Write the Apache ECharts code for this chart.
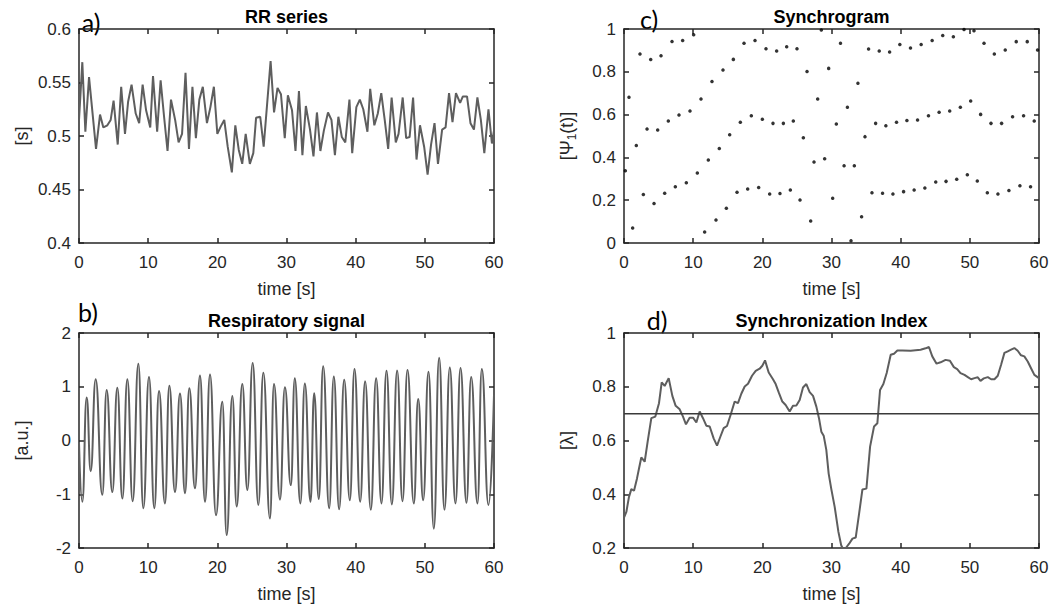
<!DOCTYPE html>
<html>
<head>
<meta charset="utf-8">
<title>Cardiorespiratory synchronization</title>
<script src="https://cdn.jsdelivr.net/npm/echarts@6/dist/echarts.min.js"></script>
<style>
  html, body { margin: 0; padding: 0; background: #ffffff; }
  #chart { width: 1052px; height: 610px; }
</style>
</head>
<body>
<div id="chart"></div>
<script>
// ---- a) RR interval series: beat time [s] and RR interval [s]
const rrTime = [
  0.00, 0.48, 0.92, 1.45, 2.46, 3.04, 3.52, 4.10, 4.58, 5.00,
  5.60, 6.10, 6.65, 7.10, 7.60, 8.20, 8.70, 9.20, 9.70, 10.30,
  10.70, 11.30, 11.80, 12.30, 12.80, 13.30, 13.90, 14.40, 14.90, 15.40,
  15.90, 16.40, 16.90, 17.40, 17.90, 18.50, 19.00, 19.50, 20.00, 20.50,
  21.00, 21.50, 22.10, 22.60, 23.10, 23.60, 24.10, 24.70, 25.20, 25.60,
  26.20, 26.70, 27.70, 28.20, 28.70, 29.20, 29.75, 30.20, 30.80, 31.30,
  31.80, 32.30, 32.80, 33.40, 33.90, 34.40, 34.90, 35.40, 36.00, 36.50,
  37.00, 37.50, 38.00, 38.50, 39.10, 39.50, 40.10, 40.60, 41.10, 41.70,
  42.10, 42.70, 43.20, 43.70, 44.20, 44.70, 45.20, 45.80, 46.20, 46.80,
  47.30, 47.80, 48.30, 48.80, 49.30, 49.90, 50.40, 50.90, 51.40, 51.90,
  52.50, 53.00, 53.50, 54.00, 54.50, 55.10, 55.50, 56.10, 56.60, 57.10,
  57.60, 58.10, 58.60, 59.20, 59.70, 60.00
];
const rrValue = [
  0.515, 0.569, 0.504, 0.555, 0.488, 0.520, 0.508, 0.510, 0.515, 0.533,
  0.492, 0.546, 0.502, 0.532, 0.548, 0.521, 0.512, 0.548, 0.524, 0.508,
  0.556, 0.504, 0.552, 0.518, 0.486, 0.534, 0.515, 0.494, 0.502, 0.559,
  0.488, 0.546, 0.498, 0.534, 0.546, 0.512, 0.527, 0.546, 0.502, 0.509,
  0.515, 0.490, 0.466, 0.510, 0.487, 0.474, 0.502, 0.474, 0.484, 0.517,
  0.518, 0.490, 0.570, 0.522, 0.545, 0.539, 0.498, 0.538, 0.524, 0.486,
  0.542, 0.482, 0.528, 0.506, 0.481, 0.522, 0.486, 0.505, 0.522, 0.515,
  0.482, 0.518, 0.499, 0.494, 0.534, 0.484, 0.527, 0.534, 0.525, 0.504,
  0.544, 0.510, 0.521, 0.540, 0.515, 0.488, 0.536, 0.494, 0.502, 0.536,
  0.498, 0.499, 0.536, 0.478, 0.510, 0.490, 0.464, 0.492, 0.512, 0.474,
  0.506, 0.508, 0.540, 0.513, 0.540, 0.531, 0.537, 0.537, 0.512, 0.506,
  0.536, 0.515, 0.484, 0.525, 0.493, 0.505
];

// ---- b) respiratory signal: successive peaks and troughs [s], [a.u.]
const respTime = [
  0.00, 0.48, 1.11, 1.69, 2.41, 3.37, 4.00, 4.82, 5.54, 6.27,
  6.99, 7.76, 8.58, 9.30, 10.12, 10.89, 11.57, 12.43, 13.06, 13.88,
  14.60, 15.33, 15.95, 16.77, 17.49, 18.22, 18.94, 19.81, 20.72, 21.35,
  22.17, 22.80, 23.61, 24.34, 25.11, 25.93, 26.65, 27.61, 28.19, 29.06,
  29.77, 30.63, 31.20, 32.00, 32.65, 33.47, 34.00, 34.67, 35.30, 36.17,
  36.84, 37.61, 38.34, 39.16, 39.83, 40.65, 41.37, 42.19, 42.96, 43.73,
  44.46, 45.23, 46.00, 46.77, 47.49, 48.41, 49.04, 49.76, 50.53, 51.30,
  52.07, 52.84, 53.61, 54.43, 55.16, 56.02, 56.70, 57.61, 58.24, 59.20,
  60.00
];
const respValue = [
  -0.04, -1.14, 0.80, -0.57, 1.14, -1.01, 0.94, -0.96, 0.98, -1.08,
  1.14, -1.13, 1.43, -1.26, 1.18, -1.26, 0.92, -1.17, 1.02, -0.96,
  0.875, -0.98, 0.97, -0.89, 1.21, -1.14, 1.23, -1.39, 0.72, -1.76,
  0.83, -1.23, 1.05, -0.92, 1.44, -1.20, 1.26, -1.45, 1.05, -1.10,
  0.99, -0.83, 1.16, -1.17, 1.06, -1.14, 0.88, -1.09, 1.38, -1.26,
  1.19, -1.28, 1.13, -1.11, 1.33, -1.14, 1.10, -1.29, 1.16, -1.17,
  1.30, -1.19, 1.30, -1.13, 1.31, -1.17, 0.77, -1.11, 1.28, -1.64,
  1.54, -1.29, 1.36, -1.17, 1.35, -1.16, 1.18, -1.17, 1.33, -1.20,
  0.85
];

// ---- c) synchrogram: respiratory phase at each heartbeat
const syncTime = [
  0.19, 0.72, 1.25, 1.78, 2.31, 2.80, 3.33, 3.86, 4.34, 4.87,
  5.35, 5.88, 6.41, 6.94, 7.42, 7.95, 8.48, 9.01, 9.54, 10.07,
  10.60, 11.13, 11.66, 12.19, 12.72, 13.30, 13.78, 14.31, 14.80, 15.28,
  15.81, 16.34, 16.82, 17.35, 17.88, 18.41, 18.94, 19.47, 20.00, 20.53,
  21.06, 21.54, 22.07, 22.55, 23.04, 23.52, 24.05, 24.48, 25.01, 25.45,
  25.93, 26.46, 26.99, 27.47, 28.00, 28.53, 29.01, 29.59, 30.17, 30.70,
  31.30, 31.82, 32.30, 32.82, 33.30, 33.82, 34.35, 34.84, 35.36, 35.85,
  36.38, 36.90, 37.38, 37.86, 38.40, 38.88, 39.40, 39.88, 40.42, 40.90,
  41.42, 41.95, 42.44, 42.96, 43.50, 44.02, 44.55, 45.07, 45.56, 46.08,
  46.56, 47.09, 47.62, 48.10, 48.63, 49.16, 49.64, 50.12, 50.60, 51.08,
  51.56, 52.05, 52.53, 53.06, 53.54, 54.06, 54.59, 55.12, 55.65, 56.18,
  56.71, 57.24, 57.77, 58.30, 58.78, 59.31, 59.79
];
const syncPhase = [
  0.338, 0.681, 0.070, 0.456, 0.883, 0.227, 0.533, 0.857, 0.185, 0.528,
  0.875, 0.232, 0.570, 0.942, 0.263, 0.598, 0.946, 0.282, 0.617, 0.973,
  0.327, 0.673, 0.051, 0.388, 0.755, 0.107, 0.442, 0.808, 0.162, 0.506,
  0.858, 0.237, 0.564, 0.933, 0.252, 0.595, 0.946, 0.259, 0.578, 0.908,
  0.229, 0.559, 0.897, 0.231, 0.559, 0.917, 0.248, 0.570, 0.908, 0.201,
  0.492, 0.801, 0.103, 0.379, 0.673, 0.995, 0.394, 0.816, 0.209, 0.556,
  0.933, 0.361, 0.634, 0.011, 0.361, 0.746, 0.123, 0.497, 0.907, 0.235,
  0.559, 0.897, 0.232, 0.548, 0.893, 0.229, 0.564, 0.928, 0.240, 0.572,
  0.911, 0.248, 0.575, 0.928, 0.257, 0.595, 0.946, 0.285, 0.611, 0.970,
  0.288, 0.617, 0.964, 0.298, 0.634, 0.998, 0.319, 0.664, 0.992, 0.290,
  0.601, 0.933, 0.235, 0.559, 0.883, 0.229, 0.559, 0.902, 0.245, 0.590,
  0.941, 0.268, 0.595, 0.941, 0.263, 0.570, 0.902
];

// ---- d) synchronization index lambda over time
const lambdaTime = [
  0.00, 0.34, 0.72, 1.06, 1.45, 1.88, 2.17, 2.50, 2.99, 3.42,
  3.95, 4.53, 5.06, 5.45, 5.88, 6.46, 6.99, 7.47, 8.05, 8.53,
  8.96, 9.49, 9.98, 10.46, 10.94, 11.42, 11.90, 12.39, 12.96, 13.45,
  13.93, 14.41, 14.89, 15.42, 16.00, 16.48, 16.96, 17.45, 17.93, 18.51,
  19.04, 19.61, 20.00, 20.39, 20.92, 21.54, 21.93, 22.41, 22.89, 23.37,
  23.95, 24.43, 24.92, 25.40, 25.88, 26.36, 26.84, 27.33, 27.81, 28.19,
  28.53, 28.87, 29.25, 29.59, 29.98, 30.46, 31.00, 31.40, 31.60, 32.07,
  32.55, 33.03, 33.50, 33.99, 34.47, 35.05, 35.58, 36.15, 36.63, 37.02,
  37.50, 37.98, 38.56, 39.04, 39.52, 40.24, 41.44, 42.88, 43.60, 44.09,
  44.57, 45.19, 45.77, 46.49, 47.12, 47.69, 48.17, 48.65, 49.23, 49.71,
  50.19, 50.67, 51.15, 51.54, 52.02, 52.60, 53.08, 53.56, 54.04, 54.52,
  55.00, 55.48, 55.96, 56.44, 56.92, 57.40, 57.88, 58.37, 58.85, 59.33,
  60.00
];
const lambdaValue = [
  0.313, 0.334, 0.390, 0.419, 0.413, 0.459, 0.496, 0.537, 0.521, 0.596,
  0.683, 0.689, 0.739, 0.816, 0.803, 0.832, 0.766, 0.729, 0.716, 0.689,
  0.660, 0.685, 0.685, 0.667, 0.708, 0.683, 0.655, 0.652, 0.608, 0.581,
  0.614, 0.646, 0.654, 0.696, 0.745, 0.739, 0.774, 0.801, 0.811, 0.841,
  0.859, 0.867, 0.878, 0.898, 0.853, 0.828, 0.810, 0.776, 0.745, 0.732,
  0.708, 0.729, 0.730, 0.751, 0.797, 0.810, 0.780, 0.766, 0.726, 0.683,
  0.633, 0.618, 0.565, 0.477, 0.418, 0.353, 0.260, 0.210, 0.200, 0.200,
  0.216, 0.235, 0.239, 0.328, 0.418, 0.421, 0.577, 0.652, 0.664, 0.788,
  0.810, 0.851, 0.919, 0.923, 0.935, 0.935, 0.934, 0.938, 0.943, 0.948,
  0.913, 0.886, 0.891, 0.900, 0.897, 0.873, 0.866, 0.851, 0.844, 0.836,
  0.828, 0.832, 0.835, 0.822, 0.831, 0.836, 0.828, 0.828, 0.841, 0.882,
  0.926, 0.932, 0.938, 0.944, 0.934, 0.917, 0.913, 0.894, 0.869, 0.844,
  0.832
];
const lambdaThreshold = 0.7;

// ---- axis settings
const timeRange = [0, 60];
const timeStep = 10;
const panelTitles = ['RR series', 'Respiratory signal', 'Synchrogram', 'Synchronization Index'];
const panelTags = ['a)', 'b)', 'c)', 'd)'];
const yLabels = ['[s]', '[a.u.]', '[\u03A8{sub|1}(t)]', '[\u03BB]'];
const yRanges = [[0.4, 0.6, 0.05], [-2, 2, 1], [0, 1, 0.2], [0.2, 1, 0.2]];

const zip = (xs, ys) => xs.map((x, i) => [x, ys[i]]);

const INK = '#262626';
const TRACE = '#5e5e5e';
const SANS = '"Liberation Sans", Arial, Helvetica, sans-serif';

const grids = [
  { left: 79,  top: 29,  width: 415, height: 214 },
  { left: 79,  top: 333, width: 415, height: 215 },
  { left: 624, top: 29,  width: 415, height: 214 },
  { left: 624, top: 333, width: 415, height: 215 }
].map(g => Object.assign({ containLabel: false, outerBoundsMode: 'none', show: false }, g));

const frameLine = { onZero: false, lineStyle: { color: INK, width: 1.5 } };
const frameTick = { inside: true, length: 5, lineStyle: { color: INK, width: 1.5 } };
const tickFont = { fontSize: 17, color: INK, fontFamily: SANS };

const xAxes = [];
const yAxes = [];
grids.forEach((g, i) => {
  // bottom: time axis with labels
  xAxes.push({
    type: 'value', gridIndex: i, position: 'bottom',
    min: timeRange[0], max: timeRange[1], interval: timeStep,
    name: 'time [s]', nameLocation: 'middle', nameGap: 37,
    nameTextStyle: { fontSize: 18, color: INK, fontFamily: SANS },
    axisLine: frameLine, axisTick: frameTick,
    axisLabel: Object.assign({ margin: 11 }, tickFont),
    splitLine: { show: false }
  });
  // top: frame edge carrying the panel title
  xAxes.push({
    type: 'value', gridIndex: i, position: 'top',
    min: timeRange[0], max: timeRange[1], interval: timeStep,
    name: panelTitles[i], nameLocation: 'middle', nameGap: 3,
    nameTextStyle: { fontSize: 18, fontWeight: 'bold', color: '#000', fontFamily: SANS },
    axisLine: frameLine, axisTick: frameTick,
    axisLabel: { show: false }, splitLine: { show: false }
  });
  const [lo, hi, step] = yRanges[i];
  yAxes.push({
    type: 'value', gridIndex: i, position: 'left',
    min: lo, max: hi, interval: step,
    name: yLabels[i], nameLocation: 'middle', nameGap: 48,
    nameTextStyle: {
      fontSize: 18, color: INK, fontFamily: SANS,
      rich: { sub: { fontSize: 12, color: INK, fontFamily: SANS, verticalAlign: 'bottom', padding: [0, 0, -2, 0] } }
    },
    axisLine: frameLine, axisTick: frameTick,
    axisLabel: Object.assign({ margin: 8 }, tickFont),
    splitLine: { show: false }
  });
  yAxes.push({
    type: 'value', gridIndex: i, position: 'right',
    min: lo, max: hi, interval: step,
    axisLine: frameLine, axisTick: frameTick,
    axisLabel: { show: false }, splitLine: { show: false }
  });
});

const tagPos = [[91, 22], [88, 312], [649, 19], [657, 320]];
const graphic = panelTags.map((tag, i) => ({
  type: 'text', x: tagPos[i][0], y: tagPos[i][1], silent: true,
  style: {
    text: tag, fill: '#000', fontSize: 25, fontFamily: 'Lato, "Open Sans", sans-serif',
    align: 'center', verticalAlign: 'middle', textAlign: 'center', textVerticalAlign: 'middle'
  }
}));

const traceLine = { color: TRACE, width: 2 };

const option = {
  animation: false,
  backgroundColor: '#ffffff',
  grid: grids,
  xAxis: xAxes,
  yAxis: yAxes,
  graphic: graphic,
  series: [
    {
      name: 'RR', type: 'line', xAxisIndex: 0, yAxisIndex: 0,
      data: zip(rrTime, rrValue), showSymbol: false, lineStyle: traceLine,
      itemStyle: { color: TRACE }
    },
    {
      name: 'Respiration', type: 'line', xAxisIndex: 2, yAxisIndex: 2,
      data: zip(respTime, respValue), showSymbol: false,
      smooth: 0.5, smoothMonotone: 'x', lineStyle: traceLine,
      itemStyle: { color: TRACE }
    },
    {
      name: 'Phase', type: 'scatter', xAxisIndex: 4, yAxisIndex: 4,
      data: zip(syncTime, syncPhase), symbol: 'circle', symbolSize: 3.5,
      itemStyle: { color: '#000' }
    },
    {
      name: 'Lambda', type: 'line', xAxisIndex: 6, yAxisIndex: 6,
      data: zip(lambdaTime, lambdaValue), showSymbol: false, lineStyle: traceLine,
      itemStyle: { color: TRACE }
    },
    {
      name: 'Threshold', type: 'line', xAxisIndex: 6, yAxisIndex: 6,
      data: timeRange.map(t => [t, lambdaThreshold]), showSymbol: false,
      lineStyle: { color: '#3a3a3a', width: 1.5 }, itemStyle: { color: '#3a3a3a' }
    }
  ]
};

const chart = echarts.init(document.getElementById('chart'), null, { renderer: 'svg' });
chart.setOption(option);
</script>
</body>
</html>
